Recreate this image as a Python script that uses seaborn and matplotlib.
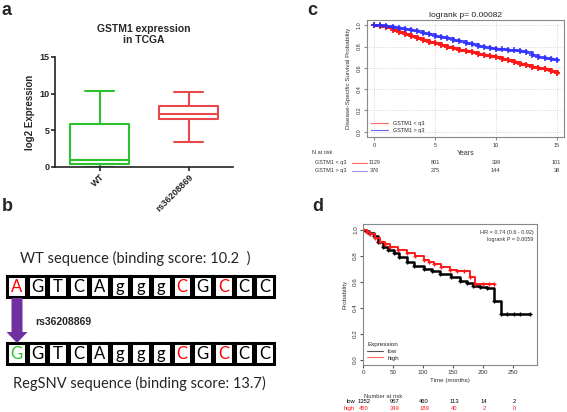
import matplotlib
matplotlib.use("Agg")
import matplotlib.pyplot as plt
import matplotlib.transforms as mtrans
from matplotlib.patches import Rectangle, FancyArrow
from matplotlib.lines import Line2D
import pandas as pd
import seaborn as sns

# ---- data ----
# panel a: box stats (min, q1, median, q3, max)
groups = ["WT", "rs36208869"]
wt_expr = [0.0, 0.4, 1.0, 5.8, 10.3]
snv_expr = [3.45, 6.55, 7.27, 8.27, 10.2]

# panel b: sequences
wt_seq = list("AGTCAgggCGCCC")
snv_seq = list("GGTCAgggCGCCC")
wt_score = 10.2
snv_score = 13.7

# panel c: disease-specific survival (years)
c_years = [0, 0.5, 1, 1.5, 2, 2.5, 3, 3.5, 4, 4.5, 5, 5.5, 6, 6.5, 7, 7.5,
           8, 8.5, 9, 9.5, 10, 10.5, 11, 11.5, 12, 12.5, 13, 13.5, 14, 14.5, 15]
c_low = [1.00, 0.99, 0.98, 0.96, 0.94, 0.92, 0.90, 0.88, 0.86, 0.845, 0.83,
         0.815, 0.80, 0.785, 0.77, 0.76, 0.75, 0.735, 0.72, 0.71, 0.70, 0.685,
         0.67, 0.655, 0.64, 0.625, 0.61, 0.60, 0.59, 0.575, 0.555]
c_high = [1.00, 1.00, 0.99, 0.985, 0.975, 0.965, 0.955, 0.945, 0.93, 0.915,
          0.90, 0.89, 0.88, 0.865, 0.85, 0.83, 0.82, 0.81, 0.80, 0.79, 0.78,
          0.775, 0.77, 0.765, 0.755, 0.745, 0.725, 0.705, 0.69, 0.68, 0.675]
c_risk_times = [0, 5, 10, 15]
c_risk_low = [1129, 801, 399, 101]
c_risk_high = [376, 275, 144, 38]

# panel d: KM plot (months)
d_t_low = [0, 5, 10, 18, 25, 34, 42, 51, 60, 73, 85, 101, 115, 129, 146, 162,
           173, 184, 195, 207, 218, 230, 240, 251, 262, 279]
d_low = [1.0, 0.99, 0.975, 0.95, 0.91, 0.87, 0.845, 0.82, 0.79, 0.75, 0.725,
         0.70, 0.68, 0.66, 0.64, 0.61, 0.59, 0.57, 0.56, 0.55, 0.45, 0.35,
         0.35, 0.35, 0.35, 0.35]
d_t_high = [0, 6, 12, 20, 29, 37, 45, 58, 73, 87, 101, 110, 118, 130, 145,
            157, 168, 179, 187, 200, 210, 218]
d_high = [1.0, 0.985, 0.97, 0.94, 0.91, 0.89, 0.87, 0.845, 0.82, 0.795, 0.77,
          0.755, 0.74, 0.715, 0.69, 0.685, 0.68, 0.64, 0.58, 0.58, 0.58, 0.58]
d_risk_times = [0, 50, 100, 150, 200, 250]
d_risk_low = [1352, 957, 460, 113, 14, 2]
d_risk_high = [450, 349, 189, 40, 2, 0]

W, H = 567, 412


def box(l, t, r, b):
    return [l / W, 1 - b / H, (r - l) / W, (b - t) / H]


sns.set_style("white")
plt.rcParams["font.family"] = ["Liberation Sans", "DejaVu Sans"]
fig = plt.figure(figsize=(W / 100, H / 100), dpi=100)

green = "#2cc22c"
red = "#e8474c"
c_red = "#ff1a1a"
c_blue = "#2b2bff"

# ---- panel a ----
ax = fig.add_axes(box(55, 57, 233, 167))
df = pd.DataFrame({"group": [groups[0]] * 5 + [groups[1]] * 5,
                   "expr": wt_expr + snv_expr})
sns.boxplot(data=df, x="group", y="expr", hue="group", palette=[green, red],
            whis=(0, 100), width=0.67, fill=False, linewidth=1.5,
            legend=False, ax=ax)
ax.set_xlim(-0.5, 1.5)
ax.set_ylim(0, 15)
ax.set_yticks([0, 5, 10, 15])
ax.set_xlabel("")
ax.set_ylabel("log2 Expression", fontsize=7, fontweight="bold", labelpad=3)
ax.set_title("GSTM1 expression\nin TCGA", fontsize=7.5, fontweight="bold",
             pad=10, linespacing=1.1)
for s in ["top", "right"]:
    ax.spines[s].set_visible(False)
for s in ["left", "bottom"]:
    ax.spines[s].set_linewidth(1.2)
    ax.spines[s].set_color("#222222")
ax.tick_params(axis="both", length=3, width=1.2, labelsize=6.5, pad=1,
               left=True, bottom=True)
for lab in ax.get_yticklabels():
    lab.set_fontweight("bold")
ax.set_xticks([0, 1])
ax.set_xticklabels(groups, rotation=45, ha="right", rotation_mode="anchor",
                   fontweight="bold", fontsize=6.5)
fig.text(2 / W, 1 - 2 / H, "a", fontsize=13, fontweight="bold", va="top")

# ---- panel b ----
axb = fig.add_axes(box(0, 200, 290, 412))
axb.set_xlim(0, 290)
axb.set_ylim(412, 200)
axb.axis("off")
seqfont = ["Lato", "DejaVu Sans"]
cell_w = 20.7
x0 = 6
wt_colors = ["red" if i in (0, 8, 10) else "black" for i in range(len(wt_seq))]
snv_colors = [green if i == 0 else ("red" if i in (8, 10) else "black")
              for i in range(len(snv_seq))]
for top, seq, cols in [(276, wt_seq, wt_colors), (343, snv_seq, snv_colors)]:
    for i, (ch, col) in enumerate(zip(seq, cols)):
        axb.add_patch(Rectangle((x0 + i * cell_w + 1, top), cell_w - 2, 21,
                                fill=False, lw=2.2, ec="black"))
        axb.text(x0 + (i + 0.5) * cell_w, top + 11, ch, color=col,
                 fontsize=12, ha="center", va="center", family=seqfont)
axb.text(20, 258, f"WT sequence (binding score: {wt_score}  )", fontsize=10.5,
         va="center", family=seqfont)
axb.text(13, 383, f"RegSNV sequence (binding score: {snv_score})",
         fontsize=10.5, va="center", family=seqfont)
axb.add_patch(FancyArrow(17, 298, 0, 34, width=11, head_width=21,
                         head_length=11, length_includes_head=False,
                         color="#7030a0", lw=0))
axb.text(35, 322, "rs36208869", fontsize=7.5, fontweight="bold", va="center")
fig.text(2 / W, 1 - 198 / H, "b", fontsize=13, fontweight="bold", va="top")

# ---- panel c ----
axc = fig.add_axes(box(367, 20, 564, 137))
sns.lineplot(x=c_years, y=c_low, color=c_red, drawstyle="steps-post",
             marker="+", markersize=4.5, markeredgewidth=1.3,
             markeredgecolor=c_red, linewidth=2.2, ax=axc)
sns.lineplot(x=c_years, y=c_high, color=c_blue, drawstyle="steps-post",
             marker="+", markersize=4.5, markeredgewidth=1.3,
             markeredgecolor=c_blue, linewidth=2.2, alpha=0.8, ax=axc)
axc.set_xlim(-0.6, 15.6)
axc.set_ylim(-0.05, 1.05)
axc.set_xticks([0, 5, 10, 15])
axc.set_yticks([0, 0.2, 0.4, 0.6, 0.8, 1.0])
axc.set_yticklabels(["0.0", "0.2", "0.4", "0.6", "0.8", "1.0"], rotation=90,
                    va="center")
axc.grid(True, ls=":", color="#cccccc", lw=0.6)
for s in axc.spines.values():
    s.set_color("#888888")
    s.set_linewidth(0.8)
axc.tick_params(labelsize=4, length=2, pad=2, left=True, bottom=True,
                color="#888888", labelcolor="#333333")
axc.set_xlabel("Years", fontsize=5, color="#333333", labelpad=2)
axc.set_ylabel("Disease-Specific Survival Probability", fontsize=4.5,
               color="#333333", labelpad=4)
axc.set_title("logrank p= 0.00082", fontsize=6, color="#222222", pad=2)
axc.legend(handles=[Line2D([], [], color="#ff6666", lw=0.8),
                    Line2D([], [], color="#6666ee", lw=0.8)],
           labels=["GSTM1 < q3", "GSTM1 > q3"], loc="lower left", fontsize=4,
           frameon=False, handlelength=3, borderaxespad=0.4, labelspacing=0.3)
tc = mtrans.blended_transform_factory(axc.transData, axc.transAxes)
axc.text(-4.3, -0.13, "N at risk", transform=tc, fontsize=4, color="#333333",
         ha="center", va="center")
for yy, lab, col, vals in [(-0.22, "GSTM1 < q3", "#ff6666", c_risk_low),
                           (-0.29, "GSTM1 > q3", "#9999ee", c_risk_high)]:
    axc.text(-2.3, yy, lab, transform=tc, fontsize=4, color="#333333",
             ha="right", va="center")
    axc.plot([-1.8, -0.6], [yy, yy], transform=tc, color=col, lw=0.8,
             clip_on=False)
    for t, v in zip(c_risk_times, vals):
        axc.text(t, yy, str(v), transform=tc, fontsize=4, color="#333333",
                 ha="center", va="center")
fig.text(307 / W, 1 - 2 / H, "c", fontsize=13, fontweight="bold", va="top")

# ---- panel d ----
axd = fig.add_axes(box(363, 224, 537, 365))
sns.lineplot(x=d_t_low, y=d_low, color="black", drawstyle="steps-post",
             marker="+", markersize=3.5, markeredgewidth=1.0,
             markeredgecolor="black", linewidth=1.8, ax=axd)
sns.lineplot(x=d_t_high, y=d_high, color=c_red, drawstyle="steps-post",
             marker="+", markersize=3.5, markeredgewidth=1.0,
             markeredgecolor=c_red, linewidth=1.4, ax=axd)
axd.set_xlim(0, 290)
axd.set_ylim(-0.04, 1.045)
axd.set_xticks(d_risk_times)
axd.set_yticks([0, 0.2, 0.4, 0.6, 0.8, 1.0])
axd.set_yticklabels(["0.0", "0.2", "0.4", "0.6", "0.8", "1.0"], rotation=90,
                    va="center")
for s in axd.spines.values():
    s.set_color("#888888")
    s.set_linewidth(0.8)
axd.tick_params(labelsize=4.5, length=2, pad=1.5, left=True, bottom=True,
                color="#555555", labelcolor="#333333")
axd.set_xlabel("Time (months)", fontsize=4.5, color="#333333", labelpad=2)
axd.set_ylabel("Probability", fontsize=4.5, color="#333333", labelpad=4)
axd.legend(handles=[Line2D([], [], color="#555555", lw=0.8),
                    Line2D([], [], color="#ff6666", lw=0.8)],
           labels=["low", "high"], title="Expression", loc="lower left",
           fontsize=4.5, title_fontsize=4.5, frameon=False, handlelength=2.5,
           borderaxespad=0.3, labelspacing=0.2, alignment="left")
axd.text(0.98, 0.955, "HR = 0.74 (0.6 - 0.92)\nlogrank P = 0.0059",
         transform=axd.transAxes, fontsize=4, ha="right", va="top",
         color="#333333", linespacing=1.4)
td = mtrans.blended_transform_factory(axd.transData, axd.transAxes)
axd.text(33, -0.22, "Number at risk", transform=td, fontsize=4.2,
         color="#333333", ha="center", va="center")
for yy, lab, col, vals in [(-0.26, "low", "black", d_risk_low),
                           (-0.31, "high", c_red, d_risk_high)]:
    axd.text(-13, yy, lab, transform=td, fontsize=4.2, color=col,
             ha="right", va="center")
    for t, v in zip(d_risk_times, vals):
        axd.text(t + 2, yy, str(v), transform=td, fontsize=4.2, color=col,
                 ha="center", va="center")
fig.text(312 / W, 1 - 198 / H, "d", fontsize=13, fontweight="bold", va="top")

fig.savefig("out.png", dpi=100)
